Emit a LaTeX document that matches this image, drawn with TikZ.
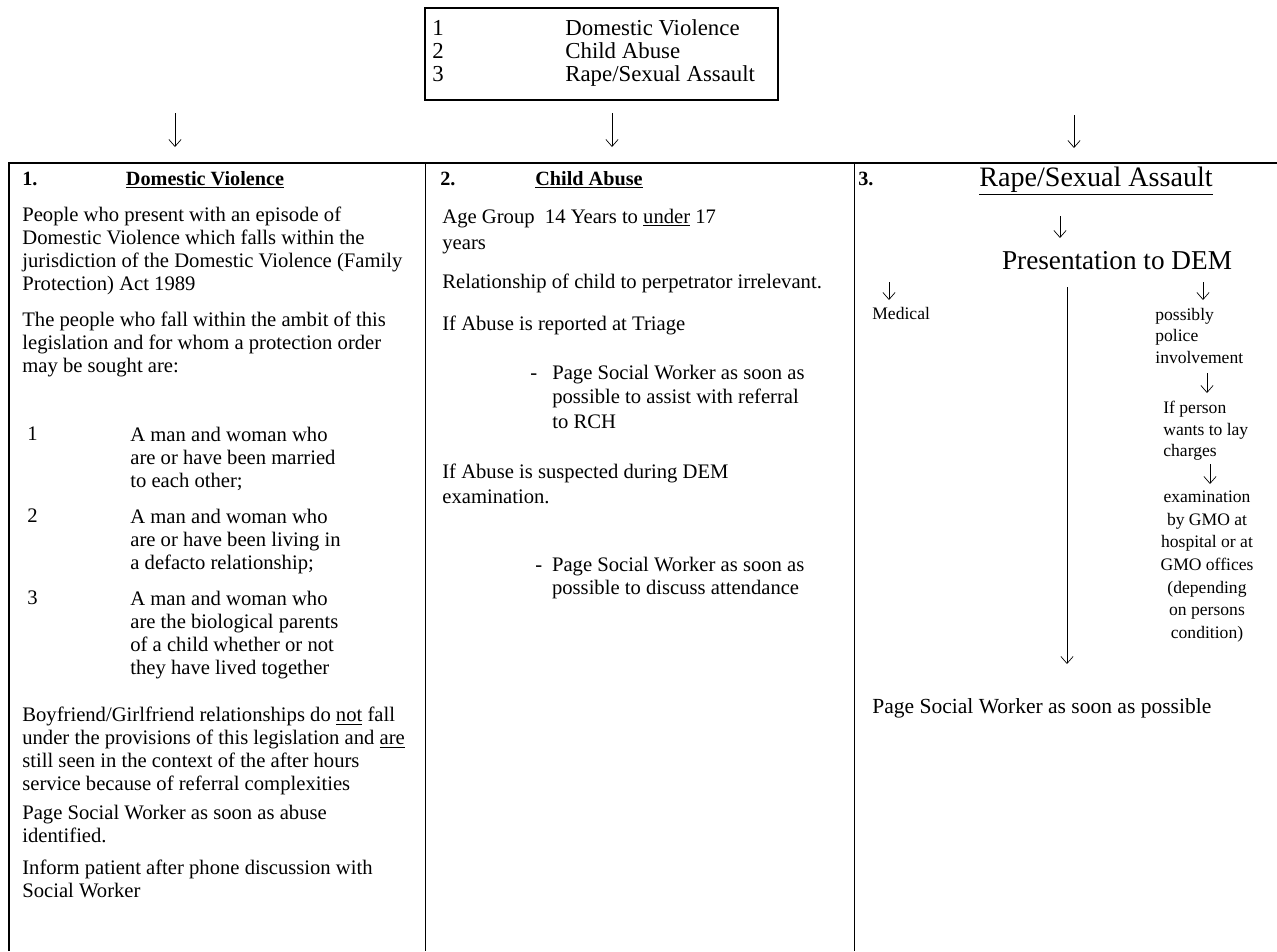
\documentclass[tikz,border=0pt]{standalone}
\usepackage{fontspec}
\setmainfont{Liberation Serif}
\usetikzlibrary{arrows.meta}

\tikzset{
  txt/.style={anchor=north west, inner sep=0pt, align=left, font=\fontsize{11.75}{13.2}\selectfont},
  line/.style={anchor=base west, inner sep=0pt, font=\fontsize{11.75}{13.2}\selectfont},
  small/.style={anchor=north west, inner sep=0pt, align=left, font=\fontsize{10}{12.4}\selectfont},
  head/.style={anchor=base west, inner sep=0pt, font=\bfseries\fontsize{11.5}{13}\selectfont},
  menu/.style={anchor=base west, inner sep=0pt, font=\fontsize{13}{14}\selectfont},
  arr/.style={-{Straight Barb[length=4pt,width=7pt]}, thin},
}

\begin{document}
\begin{tikzpicture}[x=0.02cm, y=-0.02cm]
    \useasboundingbox (0,0) rectangle (1277,951);

    % Index box
    \node[draw, thick, minimum width=7.06cm, minimum height=1.84cm, inner sep=0pt] (index) at (601.5,54) {};
    \node[menu] (i1) at (432,35) {1};
    \node[menu] (i2) at (432,58) {2};
    \node[menu] (i3) at (432,81) {3};
    \node[menu] (t1) at (565,35) {Domestic Violence};
    \node[menu] (t2) at (565,58) {Child Abuse};
    \node[menu] (t3) at (565,81) {Rape/Sexual Assault};

    % Arrows down to the columns
    \coordinate (a1) at (175,113);
    \coordinate (a2) at (612,113);
    \coordinate (a3) at (1074,115);
    \coordinate (b1) at (175,147);
    \coordinate (b2) at (612,147);
    \coordinate (b3) at (1074,148);
    \draw[arr] (a1) -- (b1);
    \draw[arr] (a2) -- (b2);
    \draw[arr] (a3) -- (b3);

    % Column frame
    \draw[thick] (9,951) -- (9,163) -- (1277,163);
    \draw (425,163) -- (425,951);
    \draw (854,163) -- (854,951);

    % Column 1
    \node[head] (n1) at (22,185) {1.};
    \node[head, anchor=base] (h1) at (205,185) {\underline{Domestic Violence}};
    \node[txt] (p1a) at (22,206.5) {People who present with an episode of\\
      Domestic Violence which falls within the\\
      jurisdiction of the Domestic Violence (Family\\
      Protection) Act 1989};
    \node[txt] (p1b) at (22,311.5) {The people who fall within the ambit of this\\
      legislation and for whom a protection order\\
      may be sought are:};
    \node[line] (k1) at (27,440) {1};
    \node[line] (k2) at (27,522) {2};
    \node[line] (k3) at (27,604) {3};
    \node[txt] (m1) at (130,426.5) {A man and woman who\\are or have been married\\to each other;};
    \node[txt] (m2) at (130,508.5) {A man and woman who\\are or have been living in\\a defacto relationship;};
    \node[txt] (m3) at (130,590.5) {A man and woman who\\are the biological parents\\of a child whether or not\\they have lived together};
    \node[txt] (p1c) at (22,706.5) {Boyfriend/Girlfriend relationships do \underline{not} fall\\
      under the provisions of this legislation and \underline{are}\\
      still seen in the context of the after hours\\
      service because of referral complexities};
    \node[txt] (p1d) at (22,804.5) {Page Social Worker as soon as abuse\\identified.};
    \node[txt] (p1e) at (22,859.5) {Inform patient after phone discussion with\\Social Worker};

    % Column 2
    \node[head] (n2) at (440,185) {2.};
    \node[head, anchor=base] (h2) at (589,185) {\underline{Child Abuse}};
    \node[txt] (age) at (442,208.5) {Age Group\hspace{0.5em}14 Years to \underline{under} 17\\[2pt]years};
    \node[line] (rel) at (442,288) {Relationship of child to perpetrator irrelevant.};
    \node[line] (rep) at (442,330) {If Abuse is reported at Triage};
    \node[txt, font=\fontsize{11.75}{14}\selectfont] (s1) at (530,364.5) {\makebox[12.5pt][l]{-}Page Social Worker as soon as\\
      \hspace*{12.5pt}possible to assist with referral\\
      \hspace*{12.5pt}to RCH};
    \node[txt, font=\fontsize{11.75}{14.4}\selectfont] (sus) at (442,463.5) {If Abuse is suspected during DEM\\examination.};
    \node[txt] (s2) at (535,556.5) {\makebox[9.5pt][l]{-}Page Social Worker as soon as\\
      \hspace*{9.5pt}possible to discuss attendance};

    % Column 3
    \node[head] (n3) at (858,185) {3.};
    \node[inner sep=0pt, anchor=base, font=\fontsize{16}{18}\selectfont] (h3) at (1096,186) {\underline{Rape/Sexual Assault}};
    \node[inner sep=0pt, anchor=base, font=\fontsize{15.5}{18}\selectfont] (pres) at (1117,269) {Presentation to DEM};
    \coordinate (c0) at (1060,216);
    \coordinate (d0) at (1060,238);
    \draw[arr] (c0) -- (d0);
    \node[small, anchor=base west] (med) at (872,319) {Medical};
    \coordinate (c1) at (889,282);
    \coordinate (d1) at (889,300);
    \draw[arr] (c1) -- (d1);
    \node[small] (pol) at (1155,307.5) {possibly\\police\\involvement};
    \coordinate (c2) at (1203,282);
    \coordinate (d2) at (1203,300);
    \draw[arr] (c2) -- (d2);
    \coordinate (c4) at (1207,373);
    \coordinate (d4) at (1207,393);
    \draw[arr] (c4) -- (d4);
    \node[small] (lay) at (1163,400.5) {If person\\wants to lay\\charges};
    \coordinate (c5) at (1210,464);
    \coordinate (d5) at (1210,484);
    \draw[arr] (c5) -- (d5);
    \node[small, align=center, anchor=north, font=\fontsize{10}{12.9}\selectfont] (exam) at (1207,490.5) {examination\\by GMO at\\hospital or at\\GMO offices\\(depending\\on persons\\condition)};
    \coordinate (c3) at (1067,287);
    \coordinate (d3) at (1067,664);
    \draw[arr] (c3) -- (d3);
    \node[line, font=\fontsize{12.25}{14}\selectfont] (page) at (872,713) {Page Social Worker as soon as possible};
\end{tikzpicture}
\end{document}
